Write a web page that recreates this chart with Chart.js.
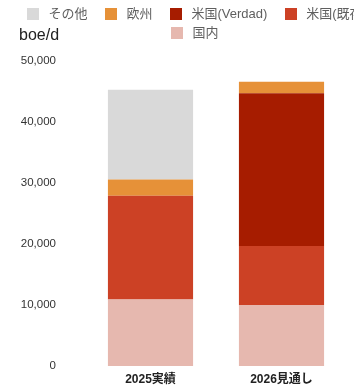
<!DOCTYPE html>
<html>
<head>
<meta charset="utf-8">
<script src="https://cdn.jsdelivr.net/npm/chart.js@4"></script>
<style>
  html, body { margin: 0; padding: 0; background: #fff; }
  body { width: 354px; height: 388px; overflow: hidden; position: relative; }
  #c { position: absolute; left: 0; top: 0; }
  #unit {
    position: absolute; left: 19px; top: 26px;
    font: 16px "Liberation Sans", "Noto Sans CJK JP", sans-serif;
    line-height: 18px; color: #222;
  }
  #legend {
    position: absolute; left: 10px; top: 4px; width: 370px;
    display: flex; flex-wrap: wrap; justify-content: center;
    font: 13px "Liberation Sans", "Noto Sans CJK JP", sans-serif;
    line-height: 19px; color: #5f5f5f;
  }
  #legend .item { display: flex; align-items: center; margin: 0 9px; white-space: nowrap; }
  #legend .box { width: 12px; height: 12px; margin-right: 9px; }
</style>
</head>
<body>
<!-- canvas a bit taller than the window; the empty strip below is clipped -->
<canvas id="c" width="354" height="402"></canvas>
<div id="legend"></div>
<div id="unit">boe/d</div>
<script>
// categories and series (boe/d)
const categories = ["2025実績", "2026見通し"];
const domestic = [10900, 10000];     // 国内
const usExisting = [17000, 9700];    // 米国(既存)
const usVerdad = [0, 25000];         // 米国(Verdad)
const europe = [2700, 1900];         // 欧州
const other = [14700, 0];            // その他
const yTicks = [0, 10000, 20000, 30000, 40000, 50000];

const datasets = [
  { label: "国内", data: domestic, backgroundColor: "#e6b8af" },
  { label: "米国(既存", data: usExisting, backgroundColor: "#cc4125" },
  { label: "米国(Verdad)", data: usVerdad, backgroundColor: "#a61c00" },
  { label: "欧州", data: europe, backgroundColor: "#e69138" },
  { label: "その他", data: other, backgroundColor: "#d9d9d9" },
].map((d) => ({ ...d, borderWidth: 0, barPercentage: 0.65, categoryPercentage: 1 }));

const chart = new Chart(document.getElementById("c"), {
  type: "bar",
  data: { labels: categories, datasets },
  options: {
    responsive: false,
    animation: false,
    layout: { padding: { top: 61, left: 10, right: 7, bottom: 2 } },
    plugins: { legend: { display: false }, tooltip: { enabled: false } },
    scales: {
      x: {
        stacked: true,
        afterFit: (s) => { s.height = 20.5; },
        grid: { display: false, drawTicks: false },
        border: { display: false },
        ticks: {
          padding: 6,
          color: "#222",
          font: { family: "'Liberation Sans', 'Noto Sans CJK JP', sans-serif", size: 12, weight: "600" },
        },
      },
      y: {
        stacked: true,
        min: 0,
        max: 50000,
        afterFit: (s) => { s.width = 75; },
        afterBuildTicks: (s) => { s.ticks = yTicks.map((v) => ({ value: v })); },
        grid: { display: false, drawTicks: false },
        border: { display: false },
        ticks: {
          padding: 29,
          color: "#333",
          font: { family: "'Liberation Sans', sans-serif", size: 11.5 },
          callback: (v) => Number(v).toLocaleString("en-US"),
        },
      },
    },
  },
});

// legend in reverse stack order, like the original
const legend = document.getElementById("legend");
legend.innerHTML = chart.data.datasets
  .slice()
  .reverse()
  .map((d) => `<span class="item"><span class="box" style="background:${d.backgroundColor}"></span>${d.label}</span>`)
  .join("");
</script>
</body>
</html>
